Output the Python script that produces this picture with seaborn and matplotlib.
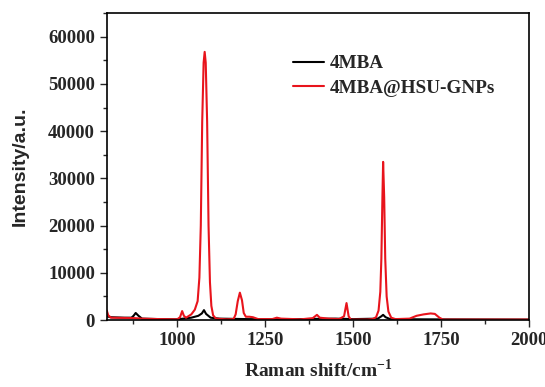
import numpy as np
import pandas as pd
import matplotlib
matplotlib.use("Agg")
import matplotlib.pyplot as plt
from matplotlib.ticker import MultipleLocator
import seaborn as sns

# ---- 데이터 ----
shift_4mba = [800, 810, 850, 870, 876, 882, 890, 900, 950, 1000, 1040, 1060, 1070, 1076, 1082,
              1095, 1120, 1200, 1300, 1450, 1500, 1570, 1580, 1585, 1592, 1605, 1700, 2000]
int_4mba = [800, 600, 500, 500, 900, 1500, 900, 300, 200, 150, 500, 900, 1400, 2100, 1300,
            500, 300, 200, 150, 300, 200, 300, 800, 1100, 600, 200, 150, 100]

shift_gnp = [800, 804, 812, 850, 880, 900, 950, 1000, 1008, 1014, 1019, 1025, 1040, 1050, 1058,
             1063, 1067, 1071, 1075, 1078, 1081, 1085, 1089, 1093, 1097, 1102, 1110, 1140, 1160,
             1166, 1172, 1178, 1184, 1189, 1195, 1205, 1215, 1230, 1270, 1283, 1295, 1350, 1385,
             1397, 1405, 1430, 1460, 1474, 1481, 1487, 1493, 1540, 1555, 1565, 1572, 1577, 1580,
             1583, 1585, 1588, 1591, 1595, 1600, 1608, 1620, 1660, 1680, 1700, 1720, 1732, 1745,
             1755, 1800, 2000]
int_gnp = [2000, 1000, 500, 450, 400, 300, 200, 150, 600, 1900, 900, 500, 1200, 2200, 4000,
           9000, 20000, 42000, 54500, 56800, 54500, 42000, 20000, 8000, 3000, 1000, 300, 150, 200,
           1200, 4000, 5800, 4200, 1500, 700, 700, 600, 200, 200, 500, 300, 150, 400,
           1100, 500, 300, 200, 800, 3600, 800, 100, 100, 200, 600, 2000, 6000, 13000,
           26000, 33500, 26000, 13000, 5000, 1800, 500, 200, 300, 900, 1200, 1400, 1300, 500,
           100, 100, 100]

df = pd.concat([
    pd.DataFrame({"shift": shift_4mba, "intensity": int_4mba, "sample": "4MBA"}),
    pd.DataFrame({"shift": shift_gnp, "intensity": int_gnp, "sample": "4MBA@HSU-GNPs"}),
])

sns.set_style("ticks")
plt.rcParams['font.family'] = ['Liberation Serif', 'DejaVu Serif']
plt.rcParams['font.weight'] = 'bold'
plt.rcParams['mathtext.fontset'] = 'custom'
plt.rcParams['mathtext.bf'] = 'Liberation Serif:bold'
plt.rcParams['mathtext.rm'] = 'Liberation Serif:bold'

fig = plt.figure(figsize=(5.45, 3.87), dpi=100)
ax = fig.add_axes([0.196, 0.173, 0.775, 0.793])

sns.lineplot(data=df, x="shift", y="intensity", hue="sample",
             palette={"4MBA": "black", "4MBA@HSU-GNPs": "#e8141c"},
             linewidth=1.5, ax=ax, sort=False)

ax.set_xlim(800, 2000)
ax.set_ylim(0, 65000)
ax.set_xticks([1000, 1250, 1500, 1750, 2000])
ax.xaxis.set_minor_locator(MultipleLocator(125))
ax.set_yticks(np.arange(0, 60001, 10000))
ax.yaxis.set_minor_locator(MultipleLocator(5000))
ax.tick_params(which="major", direction="out", length=5, width=1, labelsize=13.5)
ax.tick_params(which="minor", direction="out", length=3, width=1)
for lab in ax.get_xticklabels() + ax.get_yticklabels():
    lab.set_fontweight("bold")
for sp in ax.spines.values():
    sp.set_linewidth(1.2)
    sp.set_color("black")

ax.set_xlabel("Raman shift/cm$^{\\mathrm{-1}}$", fontsize=14, fontweight="bold", labelpad=7)
ax.set_ylabel("Intensity/a.u.", fontsize=14, fontweight="bold",
              family=["Liberation Sans", "DejaVu Sans"], labelpad=14)

leg = ax.legend(loc="upper left", bbox_to_anchor=(0.4, 0.92), frameon=False,
                handlelength=1.6, handletextpad=0.3, labelspacing=0.35,
                prop={"size": 13.8, "weight": "bold", "family": "Liberation Serif"})

fig.savefig("out.png", dpi=100)
